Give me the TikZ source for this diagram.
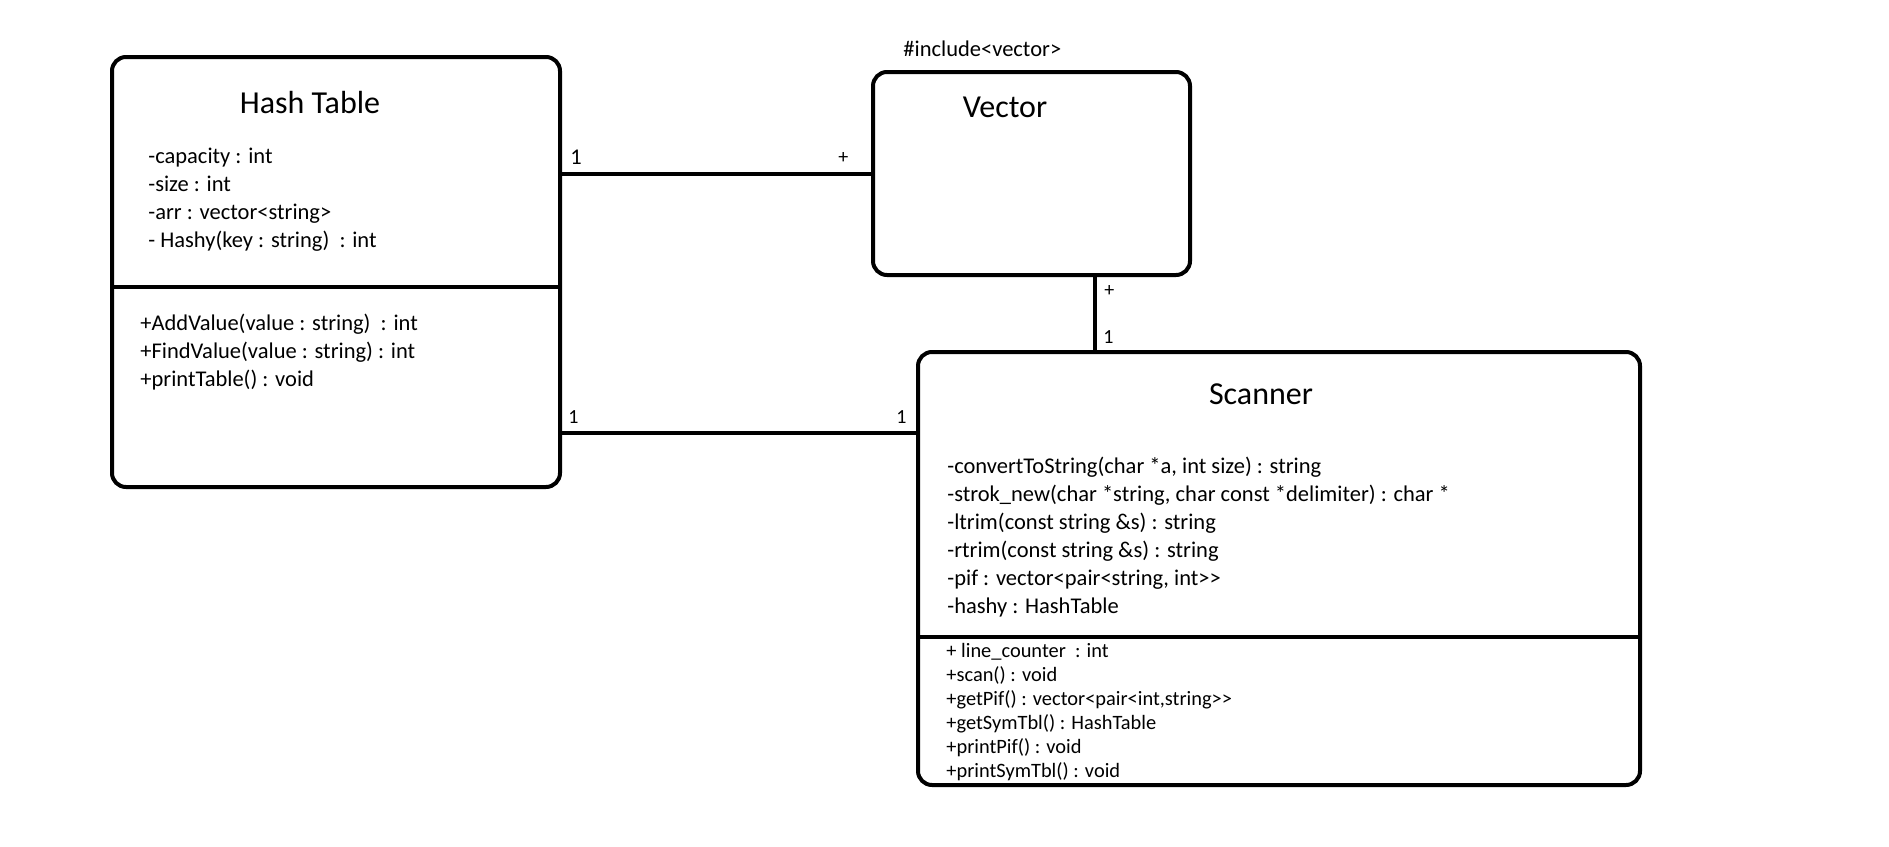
\documentclass[tikz,border=0pt]{standalone}
\usepackage{fontspec}
\setmainfont{Carlito}
\usetikzlibrary{calc}

\begin{document}
\begin{tikzpicture}[x=0.5pt, y=-0.5pt,
  classbox/.style={draw, line width=2pt, rounded corners=7pt, inner sep=0pt, outer sep=0pt},
  link/.style={line width=2pt},
  member/.style={anchor=base west, inner sep=0pt, font=\fontsize{11.25}{13.5}\selectfont},
  opline/.style={anchor=base west, inner sep=0pt, font=\fontsize{10.2}{12}\selectfont},
  mult/.style={anchor=base west, inner sep=0pt, font=\fontsize{10}{12}\selectfont},
  title/.style={anchor=base, inner sep=0pt, font=\fontsize{16}{19}\selectfont}]

  \useasboundingbox (0,0) rectangle (1889,846);

  % Draw the classes
  \node[classbox, minimum width=224pt, minimum height=215pt] (ht) at (336,272) {};
  \node[classbox, minimum width=158.5pt, minimum height=101.5pt] (vec) at (1031.5,173.5) {};
  \node[classbox, minimum width=361pt, minimum height=216.5pt] (sc) at (1279,568.5) {};

  % Draw the dividers
  \draw[link] (ht.west |- 0,287) -- (ht.east |- 0,287);
  \draw[link] (sc.west |- 0,637) -- (sc.east |- 0,637);

  % Label the classes
  \node[title] (httitle) at (310,113) {Hash Table};
  \node[title] (vectitle) at (1005,117) {Vector};
  \node[title] (sctitle) at (1261,404) {Scanner};
  \node[member] (inc) at (903,56) {\#include<vector>};

  % Hash Table members
  \foreach \t [count=\i] in {-capacity : int, -size : int, -arr : vector<string>, - Hashy(key : string) \ : int}
    \node[member] (hta\i) at (148,{163+28.3*(\i-1)}) {\t};
  \foreach \t [count=\i] in {+AddValue(value : string) \ : int, +FindValue(value : string) : int, +printTable() : void}
    \node[member] (hto\i) at (140,{330+28*(\i-1)}) {\t};

  % Scanner members
  \foreach \t [count=\i] in {{-convertToString(char *a, int size) : string},
      {-strok\_new(char *string, char const *delimiter) : char *},
      -ltrim(const string \&s) : string, -rtrim(const string \&s) : string,
      {-pif : vector<pair<string, int>{}>}, -hashy : HashTable}
    \node[member] (sca\i) at (947,{473+28*(\i-1)}) {\t};
  \foreach \t [count=\i] in {+ line\_counter \ : int, +scan() : void,
      {+getPif() : vector<pair<int,string>{}>}, +getSymTbl() : HashTable,
      +printPif() : void, +printSymTbl() : void}
    \node[opline] (sco\i) at (946,{657+24*(\i-1)}) {\t};

  % Draw the links
  \coordinate (hs) at ([yshift=27pt]ht.south east);
  \coordinate (vs) at ([xshift=31.75pt]vec.south);
  \draw[link] (vec.west) -- (vec.west -| ht.east);
  \draw[link] (hs) -- (hs -| sc.west);
  \draw[link] (vs) -- (vs |- sc.north);

  % Multiplicities
  \node[member] (m1) at (570,164) {1};
  \node[mult] (m2) at (838,163) {+};
  \node[mult] (m3) at (568,423) {1};
  \node[mult] (m4) at (896,423) {1};
  \node[mult] (m5) at (1104,296) {+};
  \node[mult] (m6) at (1103,343) {1};

\end{tikzpicture}
\end{document}
